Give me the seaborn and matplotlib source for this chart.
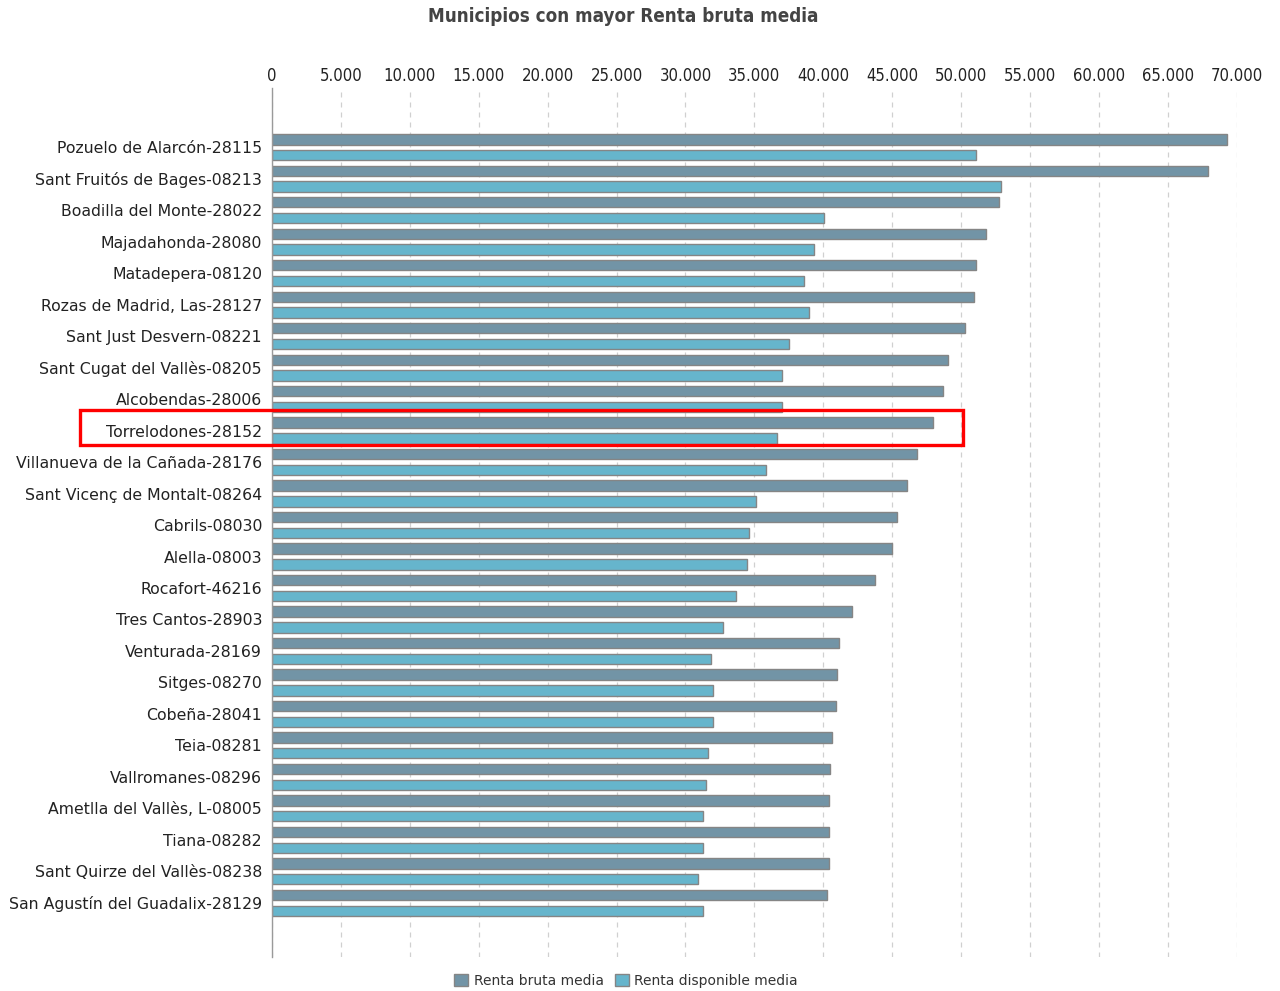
import matplotlib
matplotlib.use("Agg")
import matplotlib.pyplot as plt
import matplotlib.ticker as mticker
from matplotlib.patches import Rectangle, Patch
import seaborn as sns
import pandas as pd

municipios = [
    "Pozuelo de Alarcón-28115", "Sant Fruitós de Bages-08213", "Boadilla del Monte-28022",
    "Majadahonda-28080", "Matadepera-08120", "Rozas de Madrid, Las-28127",
    "Sant Just Desvern-08221", "Sant Cugat del Vallès-08205", "Alcobendas-28006",
    "Torrelodones-28152", "Villanueva de la Cañada-28176", "Sant Vicenç de Montalt-08264",
    "Cabrils-08030", "Alella-08003", "Rocafort-46216", "Tres Cantos-28903",
    "Venturada-28169", "Sitges-08270", "Cobeña-28041", "Teia-08281",
    "Vallromanes-08296", "Ametlla del Vallès, L-08005", "Tiana-08282",
    "Sant Quirze del Vallès-08238", "San Agustín del Guadalix-28129",
]
renta_bruta = [
    69250, 67920, 52770, 51830, 51100, 50960, 50250, 49050, 48690, 47980,
    46770, 46050, 45320, 44960, 43770, 42080, 41110, 41020, 40890, 40650,
    40510, 40410, 40410, 40410, 40290,
]
renta_disponible = [
    51100, 52900, 40020, 39300, 38570, 38930, 37510, 37030, 37030, 36660,
    35810, 35120, 34630, 34490, 33690, 32690, 31850, 31970, 31970, 31630,
    31510, 31270, 31270, 30910, 31270,
]
series = ["Renta bruta media", "Renta disponible media"]
destacado = "Torrelodones-28152"

df = pd.DataFrame({
    "Municipio": municipios * 2,
    "Valor": renta_bruta + renta_disponible,
    "Serie": [series[0]] * len(municipios) + [series[1]] * len(municipios),
})

sns.set_theme(style="white")
plt.rcParams["font.family"] = ["DejaVu Sans"]

colores = {series[0]: "#7294a6", series[1]: "#66b5cc"}

fig = plt.figure(figsize=(12.8, 9.91), dpi=100)
ax = fig.add_axes([271.8 / 1280, 1 - 957 / 991, (1237 - 271.8) / 1280, (957 - 88) / 991])

sns.barplot(data=df, y="Municipio", x="Valor", hue="Serie", palette=colores,
            saturation=1, orient="h", width=1.0, gap=0.34,
            edgecolor="#858585", linewidth=1.0, legend=False, ax=ax)

ax.set_xlim(0, 70000)
ax.set_ylim(25.72, -1.88)
ax.xaxis.set_major_locator(mticker.MultipleLocator(5000))
ax.xaxis.set_major_formatter(mticker.FuncFormatter(
    lambda v, _: f"{int(v):,}".replace(",", ".")))
ax.xaxis.tick_top()
ax.set_xlabel("")
ax.set_ylabel("")
ax.grid(axis="x", color="#d0d0d0", linestyle=(0, (4, 4)), linewidth=0.9)
ax.set_axisbelow(True)
for s in ["top", "right", "bottom"]:
    ax.spines[s].set_visible(False)
ax.spines["left"].set_color("#9a9a9a")
ax.spines["left"].set_linewidth(1.0)
ax.tick_params(axis="x", length=0, pad=2.5, labelsize=12, labelcolor="#222222")
ax.tick_params(axis="y", length=0, pad=7, labelsize=11.3, labelcolor="#222222")
for t in ax.get_xticklabels():
    t.set_fontstretch("condensed")

fig.text(623 / 1280, 1 - 17 / 991, "Municipios con mayor Renta bruta media",
         ha="center", va="center", fontsize=13.5, fontweight="bold",
         fontstretch="condensed", color="#444444")

# Highlight box around the selected municipality
idx = municipios.index(destacado)
fig.add_artist(Rectangle((80 / 1280, 1 - 445 / 991), (963 - 80) / 1280, 35 / 991,
                         transform=fig.transFigure, fill=False,
                         edgecolor="#ff0000", linewidth=2.4, clip_on=False))

handles = [Patch(facecolor=colores[s], edgecolor="#858585", label=s) for s in series]
fig.legend(handles=handles, loc="center", bbox_to_anchor=(626 / 1280, 1 - 981 / 991),
           ncol=2, frameon=False, fontsize=10, handlelength=1.0, handleheight=1.0,
           handletextpad=0.4, columnspacing=0.8, labelcolor="#333333")

fig.savefig("out.png", dpi=100)
